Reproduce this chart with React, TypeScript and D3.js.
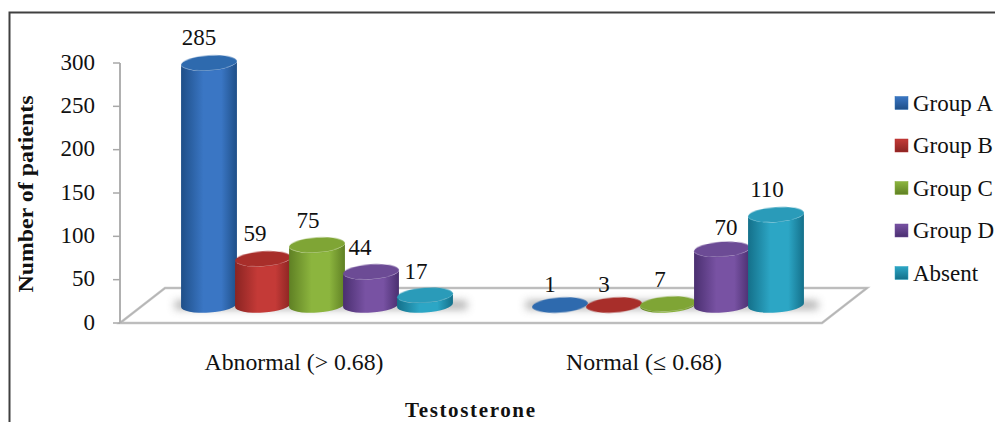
import React from "react";
import * as d3 from "d3";

const categories = ["Abnormal (> 0.68)", "Normal (≤ 0.68)"];
const seriesNames = ["Group A", "Group B", "Group C", "Group D", "Absent"];
const abnormalValues = [285, 59, 75, 44, 17];
const normalValues = [1, 3, 7, 70, 110];
const yTicks = [0, 50, 100, 150, 200, 250, 300];

// Shading per series: edge of the cylinder, its lit middle, and the cap
const edgeColors = ["#1f4f88", "#8a2422", "#5f8024", "#4a2f70", "#14708a"];
const midColors = ["#3a76c4", "#c43a37", "#8cb53e", "#7852a3", "#2ca6c5"];
const capColors = ["#2f6aae", "#a82d2b", "#7fa534", "#6c4b95", "#2a9bb9"];
const swatchColors = ["#2f6fb5", "#b52f2d", "#86ac38", "#6f4d9c", "#2ca3c2"];

// Label nudges relative to the cylinder axis and cap
const labelShiftX = [[-10, -8, -9, -11, -9], [-10, -10, -8, 4, -9]];
const labelShiftY = [[-26, -25, -25, -24, -24], [-25, -23, -24, -22, -25]];

const W = 995;
const H = 422;
const FONT = "'Liberation Serif', 'Times New Roman', serif";
const RX = 28;
const RY = 7.5;
const TILT = (-4 * Math.PI) / 180;
const BASE_Y = 305;

const yAxis = d3.scaleLinear().domain([0, 300]).range([323, 63]);
const yBar = d3.scaleLinear().domain([0, 300]).range([310, 50]);
const xGroup = d3.scaleBand().domain(categories).range([141.5, 843.5]);
const xInner = d3.scaleBand().domain(seriesNames).range([-135, 135]);

const floor = d3.line()([
  [120, 323],
  [165, 288],
  [867, 288],
  [822, 323],
]) + "Z";

// Outline of a cylinder's side: down the left edge, under the bottom rim, up the right edge
function bodyPath(cx: number, top: number, base: number) {
  const dx = RX * Math.cos(TILT);
  const dy = RX * Math.sin(TILT);
  const deg = (TILT * 180) / Math.PI;
  return [
    `M${cx - dx},${top - dy}`,
    `L${cx - dx},${base - dy}`,
    `A${RX},${RY} ${deg} 0 0 ${cx + dx},${base + dy}`,
    `L${cx + dx},${top + dy}`,
    `A${RX},${RY} ${deg} 0 1 ${cx - dx},${top - dy}`,
    "Z",
  ].join(" ");
}

export default function App() {
  const groups = [abnormalValues, normalValues];
  const center = (c: string) => (xGroup(c) as number) + xGroup.bandwidth() / 2;
  const offset = (s: string) => (xInner(s) as number) + xInner.bandwidth() / 2;

  return (
    <svg
      width={W}
      height={H}
      viewBox={`0 0 ${W} ${H}`}
      style={{ position: "absolute", left: 0, top: 0, display: "block", background: "#fff", fontFamily: FONT }}
    >
      <defs>
        <filter id="floorShadow" x="-20%" y="-150%" width="140%" height="400%">
          <feGaussianBlur stdDeviation="4" />
        </filter>
        <filter id="lineShadow" x="-5%" y="-5%" width="110%" height="110%">
          <feGaussianBlur stdDeviation="0.7" />
        </filter>
        <filter id="capSoft" x="-10%" y="-30%" width="120%" height="160%">
          <feGaussianBlur stdDeviation="0.6" />
        </filter>
        {seriesNames.map((s, i) => (
          <linearGradient key={s} id={`side${i}`} x1="0" x2="1" y1="0" y2="0">
            <stop offset="0" stopColor={edgeColors[i]} />
            <stop offset="0.4" stopColor={midColors[i]} />
            <stop offset="0.72" stopColor={midColors[i]} />
            <stop offset="1" stopColor={edgeColors[i]} />
          </linearGradient>
        ))}
        {seriesNames.map((s, i) => (
          <linearGradient key={s} id={`swatch${i}`} x1="0" x2="0" y1="0" y2="1">
            <stop offset="0" stopColor={midColors[i]} />
            <stop offset="1" stopColor={edgeColors[i]} />
          </linearGradient>
        ))}
      </defs>

      {/* Frame: only the top and left sides fall inside the canvas */}
      <path d={`M9.5,${H} V12.5 H${W}`} fill="none" stroke="#404040" strokeWidth={2} />

      {/* Chart floor and value axis */}
      <path d={floor} fill="#fff" stroke="#9a9a9a" strokeWidth={2.5} opacity={0.55} filter="url(#lineShadow)" />
      <path d={floor} fill="none" stroke="#b4b4b4" strokeWidth={1.2} />
      <line x1={120} x2={120} y1={yAxis(300)} y2={yAxis(0)} stroke="#b0b0b0" strokeWidth={2} />
      {yTicks.map((t) => (
        <g key={t}>
          <line x1={113} x2={120} y1={yAxis(t)} y2={yAxis(t)} stroke="#a8a8a8" strokeWidth={1.5} />
          <text x={95} y={yAxis(t) - 1} textAnchor="end" dominantBaseline="central" fontSize={23} fill="#111">
            {t}
          </text>
        </g>
      ))}

      {/* Cylinders per category, with a soft shadow on the floor */}
      {categories.map((c, g) => {
        const cx = center(c);
        return (
          <g key={c}>
            <rect
              x={cx + offset(seriesNames[0]) - RX - 6}
              y={301}
              width={offset(seriesNames[4]) * 2 + RX * 2 + 20}
              height={8}
              fill="#555"
              opacity={0.5}
              filter="url(#floorShadow)"
            />
            {seriesNames.map((s, i) => {
              const x = cx + offset(s);
              const top = Math.min(yBar(groups[g][i]), BASE_Y);
              const dx = RX * Math.cos(TILT);
              const dy = RX * Math.sin(TILT);
              return (
                <g key={s}>
                  <path d={bodyPath(x, top, BASE_Y)} fill={`url(#side${i})`} />
                  <ellipse
                    cx={x}
                    cy={top}
                    rx={RX}
                    ry={RY}
                    fill={capColors[i]}
                    filter="url(#capSoft)"
                    transform={`rotate(${(Math.atan2(dy, dx) * 180) / Math.PI} ${x} ${top})`}
                  />
                </g>
              );
            })}
            {seriesNames.map((s, i) => (
              <text
                key={s}
                x={cx + offset(s) + labelShiftX[g][i]}
                y={yBar(groups[g][i]) + labelShiftY[g][i]}
                textAnchor="middle"
                dominantBaseline="central"
                fontSize={23}
                fill="#111"
              >
                {groups[g][i]}
              </text>
            ))}
            <text
              x={g === 0 ? 294 : 644}
              y={362}
              textAnchor="middle"
              dominantBaseline="central"
              fontSize={23}
              textLength={g === 0 ? 179 : 156}
              lengthAdjust="spacingAndGlyphs"
              fill="#111"
            >
              {c}
            </text>
          </g>
        );
      })}

      {/* Axis titles */}
      <text
        transform="translate(25,194) rotate(-90)"
        textAnchor="middle"
        dominantBaseline="central"
        fontSize={22}
        fontWeight="bold"
        textLength={197}
        lengthAdjust="spacingAndGlyphs"
        fill="#111"
      >
        Number of patients
      </text>
      <text
        x={470}
        y={410}
        textAnchor="middle"
        dominantBaseline="central"
        fontSize={21}
        fontWeight="bold"
        textLength={130}
        fill="#111"
      >
        Testosterone
      </text>

      {/* Legend */}
      {seriesNames.map((s, i) => {
        const y = 103 + i * 42.5;
        return (
          <g key={s}>
            <rect x={895} y={y - 6.5} width={13} height={13} fill={`url(#swatch${i})`} stroke={swatchColors[i]} strokeWidth={0.5} />
            <text x={913} y={y} dominantBaseline="central" fontSize={23} fill="#111">
              {s}
            </text>
          </g>
        );
      })}
    </svg>
  );
}
